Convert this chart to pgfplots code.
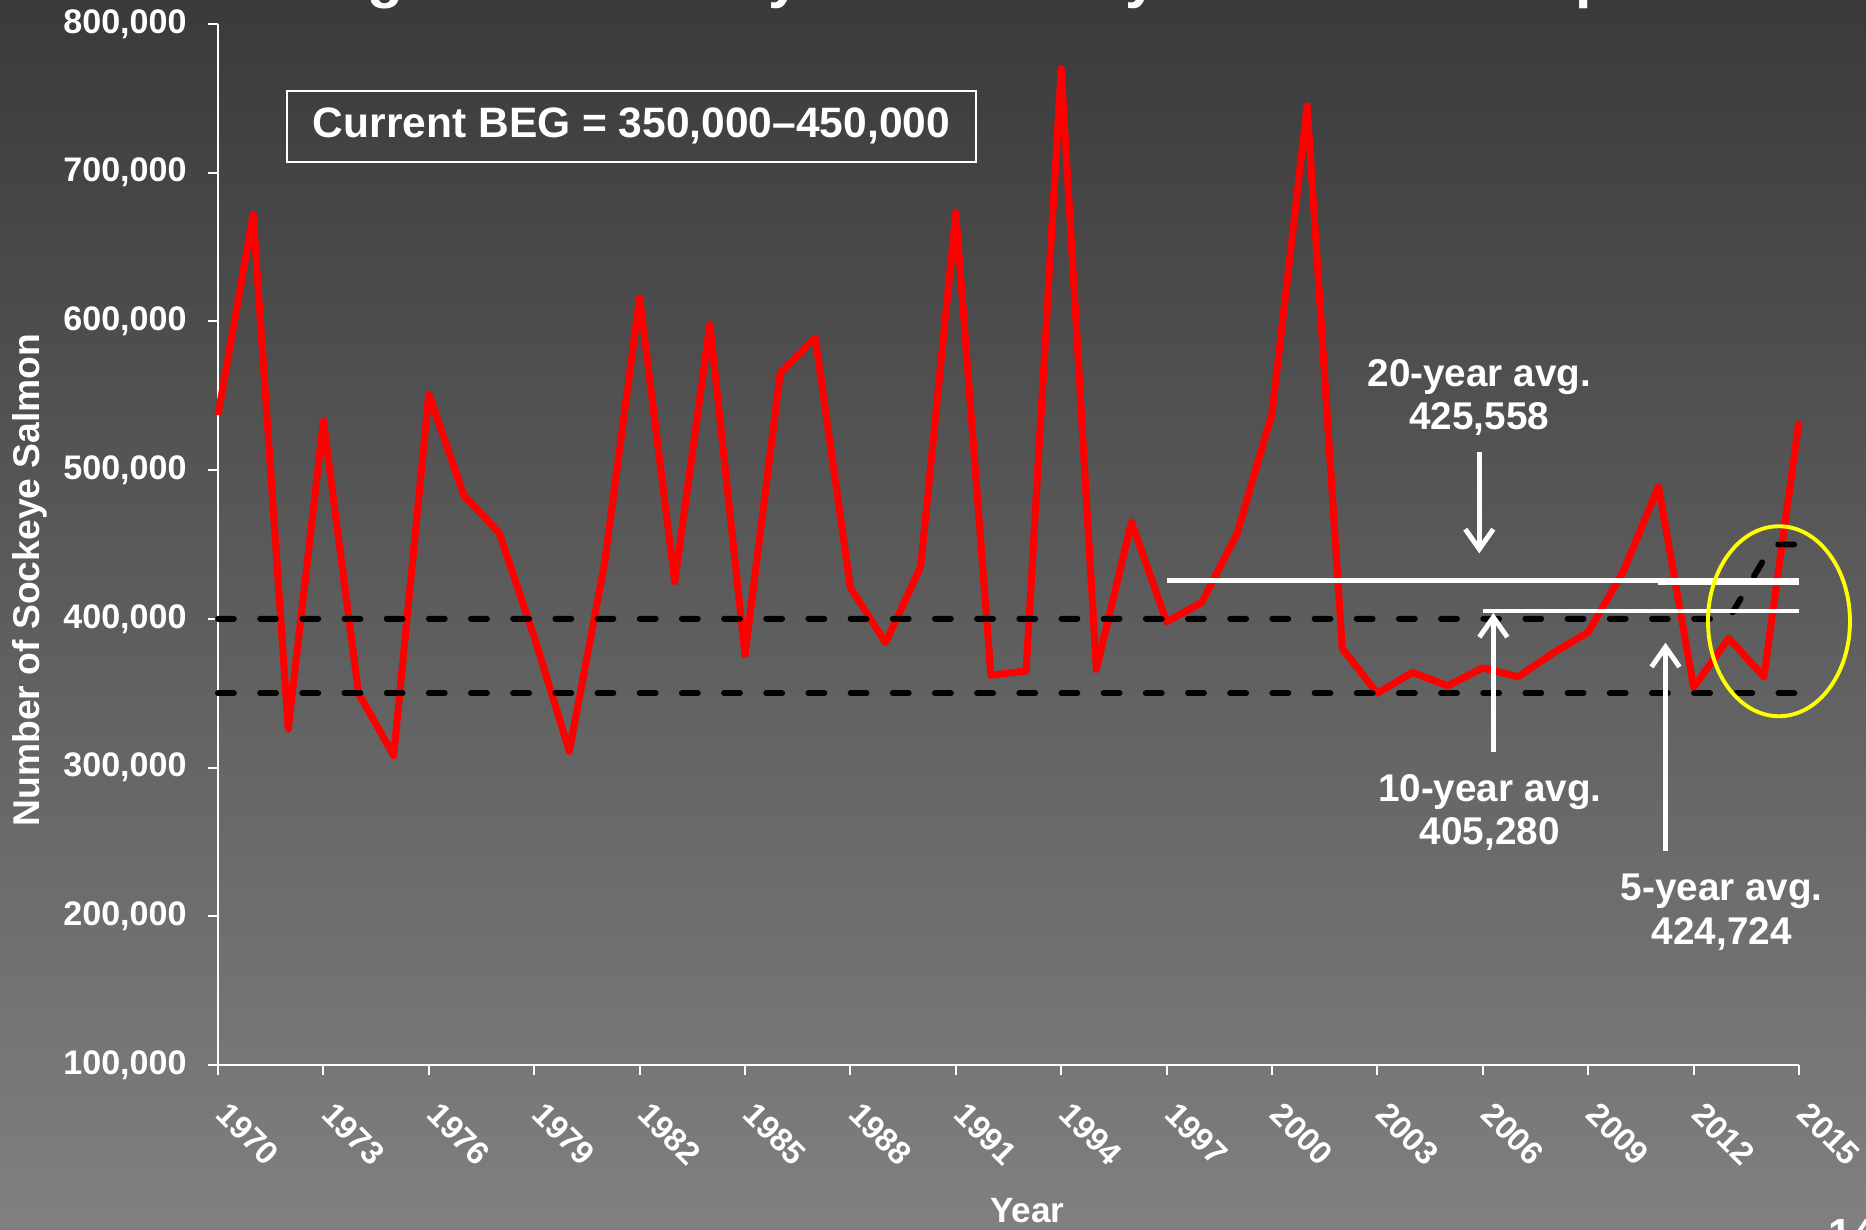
\documentclass[border=0pt]{standalone}
\usepackage{fontspec}
\setmainfont{Liberation Sans}
\usepackage{pgfplots}
\pgfplotsset{compat=1.18}
\usetikzlibrary{arrows.meta}
\definecolor{bgtop}{RGB}{58,58,58}
\definecolor{bgbot}{RGB}{128,128,128}
\definecolor{escred}{RGB}{255,0,0}
\definecolor{hl}{RGB}{255,255,0}
\pgfplotstableread{
year esc
1970 537000
1971 672000
1972 326000
1973 533000
1974 350000
1975 308000
1976 551000
1977 483000
1978 458000
1979 388000
1980 311000
1981 437000
1982 616000
1983 425000
1984 598000
1985 376000
1986 565000
1987 589000
1988 421000
1989 384000
1990 435000
1991 673000
1992 362000
1993 365000
1994 770000
1995 366000
1996 465000
1997 398000
1998 411000
1999 457000
2000 538000
2001 745000
2002 380000
2003 350000
2004 364000
2005 355000
2006 367000
2007 361000
2008 377000
2009 391000
2010 432000
2011 489000
2012 354000
2013 387000
2014 361000
2015 533000
}\esctable
\begin{document}
\begin{tikzpicture}
\shade[top color=bgtop, bottom color=bgbot] (0,0) rectangle (18.66,12.29);
\node[anchor=base west, text=white, font=\bfseries\fontsize{16.8}{20}\selectfont, inner sep=0pt] at (2.72,12.32) {Chignik Lake Early-Run Sockeye Salmon Escapement};
\node[anchor=base west, text=white, font=\bfseries\fontsize{12}{14}\selectfont, inner sep=0pt] at (18.28,-0.19) {14};
\begin{axis}[
  at={(2.18cm,1.64cm)}, anchor=south west,
  scale only axis, width=15.81cm, height=10.41cm,
  xmin=1970, xmax=2015, ymin=100000, ymax=800000,
  axis x line=bottom, axis y line=left,
  axis line style={-, white, line width=0.6pt},
  tick style={white, line width=0.6pt},
  tick align=outside,
  major tick length=0.1cm, minor tick length=0.1cm,
  xtick={1970,1973,...,2015}, minor x tick num=2,
  ytick={100000,200000,...,800000},
  scaled y ticks=false,
  /pgf/number format/assume math mode=true,
  ticklabel style={font=\bfseries\fontsize{9.7}{11}\selectfont, text=white},
  xticklabel style={/pgf/number format/1000 sep={}, font=\bfseries\fontsize{9.2}{11}\selectfont, inner sep=0pt, yshift=-0.33cm, xshift=0.04cm, rotate=-45, anchor=west},
  yticklabel style={/pgf/number format/fixed, /pgf/number format/1000 sep={,}, xshift=-0.09cm},
  xlabel={Year},
  xlabel style={font=\bfseries\fontsize{10}{12}\selectfont, text=white, at={(axis description cs:0.512,-0.140)}, anchor=center},
  ylabel={Number of Sockeye Salmon},
  ylabel style={font=\bfseries\fontsize{10.6}{12}\selectfont, text=white, at={(axis description cs:-0.119,0.466)}, anchor=center},
  clip=false,
]
\addplot[escred, line width=2pt, line join=round] table[x=year, y=esc] {\esctable};
\addplot[black, line width=1.7pt, dash pattern=on 4.5pt off 7.5pt, line cap=round] coordinates {(1970,400000) (2013,400000) (2014.25,450000) (2015,450000)};
\addplot[black, line width=1.7pt, dash pattern=on 4.5pt off 7.5pt, line cap=round] coordinates {(1970,350000) (2015,350000)};
\addplot[white, line width=1.4pt] coordinates {(1997,425558) (2015,425558)};
\addplot[white, line width=1.4pt] coordinates {(2006,405280) (2015,405280)};
\addplot[white, line width=1.4pt] coordinates {(2011,424724) (2015,424724)};
\draw[white, line width=1.4pt, -{Straight Barb[length=2mm,width=2.8mm]}] (axis cs:2005.9,512000) -- (axis cs:2005.9,444000);
\draw[white, line width=1.4pt, -{Straight Barb[length=2mm,width=2.8mm]}] (axis cs:2006.3,310400) -- (axis cs:2006.3,404000);
\draw[white, line width=1.4pt, -{Straight Barb[length=2mm,width=2.8mm]}] (axis cs:2011.2,244000) -- (axis cs:2011.2,384000);
\draw[hl, line width=1.1pt] (axis cs:2014.43,398400) ellipse [x radius=0.71cm, y radius=0.95cm];
\node[draw=white, line width=0.7pt, text=white, font=\bfseries\fontsize{12.1}{14}\selectfont, minimum width=6.89cm, minimum height=0.71cm, inner sep=0pt] at (axis cs:1981.77,731200) {Current BEG = 350,000--450,000};
\node[text=white, font=\bfseries\fontsize{11}{12.3}\selectfont, align=center] at (axis cs:2005.9,548800) {20-year avg.\\425,558};
\node[text=white, font=\bfseries\fontsize{11}{12.3}\selectfont, align=center] at (axis cs:2006.2,270000) {10-year avg.\\405,280};
\node[text=white, font=\bfseries\fontsize{11}{12.3}\selectfont, align=center] at (axis cs:2012.8,202800) {5-year avg.\\424,724};
\end{axis}
\pgfresetboundingbox
\useasboundingbox (0,0) rectangle (18.66,12.29);
\end{tikzpicture}
\end{document}
